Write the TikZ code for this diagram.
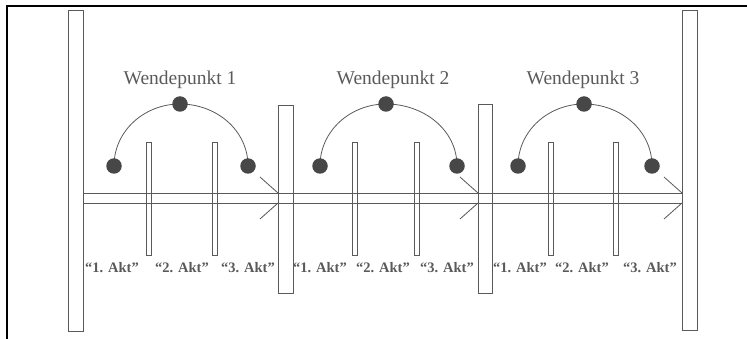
\documentclass[tikz,border=0pt]{standalone}
\usepackage{fontspec}
\setmainfont{Liberation Serif}
\definecolor{lg}{HTML}{5A5A5A}
\definecolor{dg}{HTML}{474747}
\tikzset{
  barbox/.style={draw=lg, line width=0.8pt, inner sep=0pt, outer sep=0pt, minimum width=#1},
  dot/.style={circle, fill=dg, inner sep=0pt, minimum size=15.5pt},
  ln/.style={draw=lg, line width=0.8pt},
  wp/.style={text=lg, font=\fontsize{19.5}{22}\selectfont, inner sep=0pt},
  akt/.style={text=lg, font=\fontsize{14.5}{16}\selectfont\bfseries, inner sep=0pt},
}
\begin{document}
\begin{tikzpicture}[x=1pt,y=-1pt]
\useasboundingbox (0,0) rectangle (747,339);
\draw[black, line width=1.5pt] (7,339) -- (7,6) -- (747,6);
% tall bars
\node[barbox=15pt, minimum height=321pt] (L) at (75.5,170.5) {};
\node[barbox=15pt, minimum height=320pt] (R) at (689.5,170) {};
\node[barbox=15pt, minimum height=188pt] (M1) at (285.5,199) {};
\node[barbox=14pt, minimum height=189pt] (M2) at (485,198.5) {};
% rails
\coordinate (a1) at (83,193); \coordinate (a2) at (682,193);
\coordinate (b1) at (83,203); \coordinate (b2) at (682,203);
\draw[ln] (a1) -- (a2);
\draw[ln] (b1) -- (b2);
% chevrons
\foreach \n/\x in {c1/278, c2/478, c3/682}{
  \coordinate (\n t) at (\x,193); \coordinate (\n b) at (\x,203);
  \coordinate (\n u) at (\x-18,177); \coordinate (\n d) at (\x-18,219);
  \draw[ln] (\n u) -- (\n t);
  \draw[ln] (\n d) -- (\n b);
}
% thin bars
\foreach \n/\x in {t1/148.5, t2/215, t3/354.5, t4/416.5, t5/551, t6/615.5}{
  \node[barbox=5pt, minimum height=113pt] (\n) at (\x,198.5) {};
}
% arcs with dots
\foreach \i/\l/\t/\r in {1/114/180/248, 2/320/386/457, 3/518/584/652}{
  \coordinate (l\i) at (\l,166);
  \coordinate (m\i) at (\t,104);
  \coordinate (r\i) at (\r,166);
  \draw[ln] (l\i) to[out=90,in=180] (m\i) to[out=0,in=90] (r\i);
  \node[dot] (dl\i) at (l\i) {};
  \node[dot] (dm\i) at (m\i) {};
  \node[dot] (dr\i) at (r\i) {};
}
\node[wp] (w1) at (180,80) {Wendepunkt 1};
\node[wp] (w2) at (393,80) {Wendepunkt 2};
\node[wp] (w3) at (583,80) {Wendepunkt 3};
% labels
\foreach \n/\x/\k in {k1/112/1, k2/182/2, k3/248/3, k4/320/1, k5/383/2, k6/447/3, k7/520/1, k8/582/2, k9/650/3}{
  \node[akt] (\n) at (\x,268) {“\k. Akt”};
}
\end{tikzpicture}
\end{document}
